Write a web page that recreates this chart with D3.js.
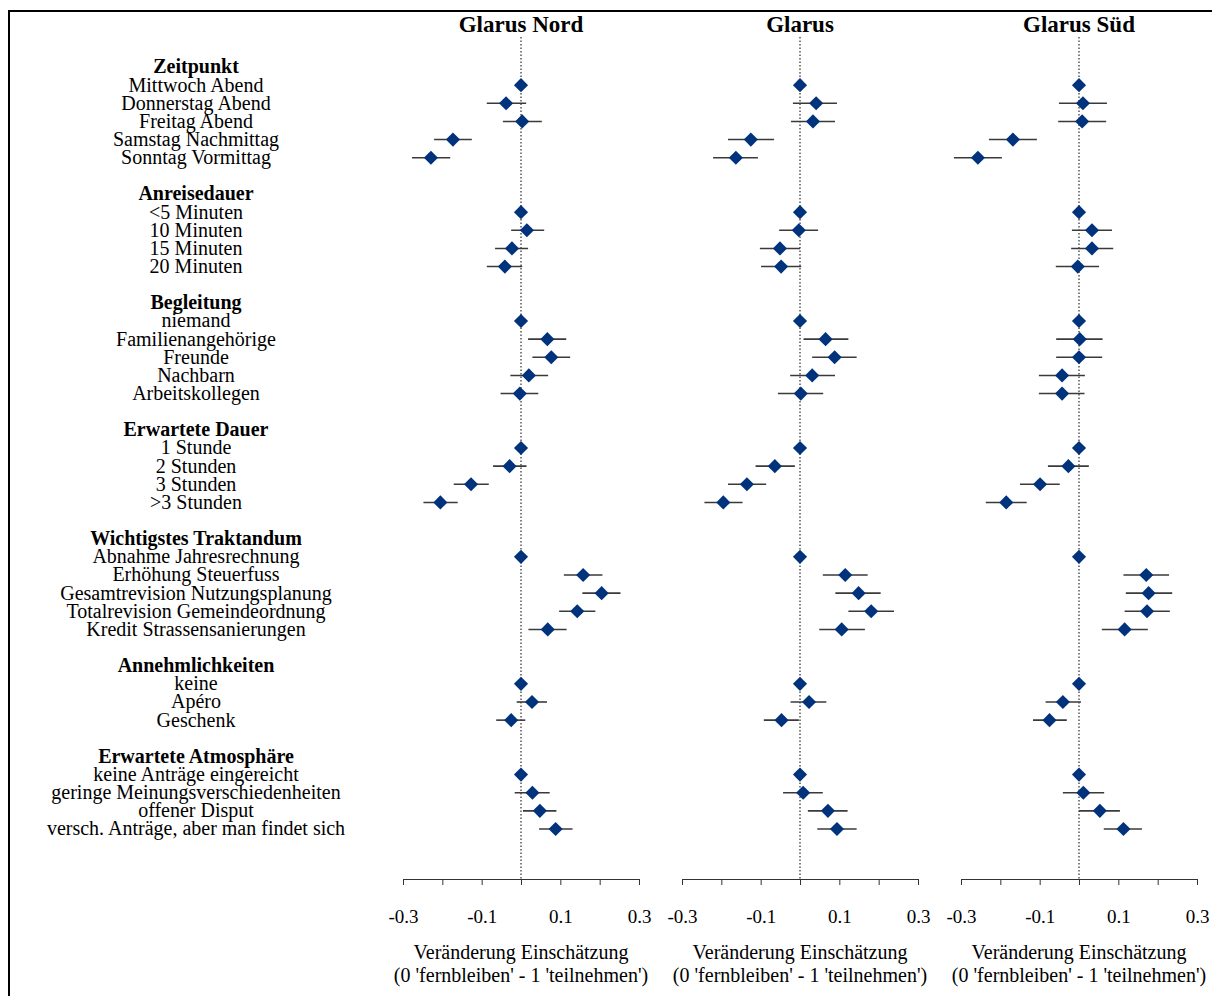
<!DOCTYPE html>
<html>
<head>
<meta charset="utf-8">
<script src="https://cdn.jsdelivr.net/npm/d3@7"></script>
<style>
  body { margin: 0; background: #fff; }
  svg { display: block; font-family: 'Liberation Serif', 'Times New Roman', serif; }
</style>
</head>
<body>
<div id="chart"></div>
<script>
// Gemeinden (ein Panel pro Gemeinde)
const panels = ['Glarus Nord', 'Glarus', 'Glarus Süd']

// Merkmale und Ausprägungen
const groupNames = ['Zeitpunkt', 'Anreisedauer', 'Begleitung', 'Erwartete Dauer',
  'Wichtigstes Traktandum', 'Annehmlichkeiten', 'Erwartete Atmosphäre']
const groupItems = [
  ['Mittwoch Abend', 'Donnerstag Abend', 'Freitag Abend', 'Samstag Nachmittag', 'Sonntag Vormittag'],
  ['<5 Minuten', '10 Minuten', '15 Minuten', '20 Minuten'],
  ['niemand', 'Familienangehörige', 'Freunde', 'Nachbarn', 'Arbeitskollegen'],
  ['1 Stunde', '2 Stunden', '3 Stunden', '>3 Stunden'],
  ['Abnahme Jahresrechnung', 'Erhöhung Steuerfuss', 'Gesamtrevision Nutzungsplanung',
    'Totalrevision Gemeindeordnung', 'Kredit Strassensanierungen'],
  ['keine', 'Apéro', 'Geschenk'],
  ['keine Anträge eingereicht', 'geringe Meinungsverschiedenheiten', 'offener Disput',
    'versch. Anträge, aber man findet sich']
]

// Schätzer (AMCE) und 95%-Intervalle, null = Referenzkategorie
const nordEst = [0, -0.038, 0.003, -0.173, -0.229, 0, 0.015, -0.023, -0.041, 0, 0.067, 0.077, 0.020, -0.003,
  0, -0.029, -0.127, -0.205, 0, 0.158, 0.205, 0.143, 0.068, 0, 0.028, -0.025, 0, 0.029, 0.048, 0.088]
const nordLo = [null, -0.087, -0.046, -0.221, -0.277, null, -0.025, -0.066, -0.087, null, 0.018, 0.029, -0.027, -0.052,
  null, -0.071, -0.171, -0.248, null, 0.109, 0.156, 0.097, 0.019, null, -0.011, -0.063, null, -0.016, 0.005, 0.046]
const nordHi = [null, 0.013, 0.053, -0.125, -0.180, null, 0.059, 0.018, 0.003, null, 0.115, 0.125, 0.069, 0.044,
  null, 0.014, -0.082, -0.161, null, 0.207, 0.253, 0.189, 0.116, null, 0.066, 0.011, null, 0.073, 0.090, 0.131]

const glarusEst = [0, 0.041, 0.033, -0.125, -0.163, 0, -0.003, -0.051, -0.048, 0, 0.065, 0.088, 0.031, 0.002,
  0, -0.064, -0.135, -0.195, 0, 0.115, 0.149, 0.181, 0.106, 0, 0.023, -0.047, 0, 0.008, 0.071, 0.094]
const glarusLo = [null, -0.018, -0.023, -0.183, -0.221, null, -0.053, -0.102, -0.099, null, 0.009, 0.031, -0.025, -0.056,
  null, -0.113, -0.183, -0.243, null, 0.058, 0.090, 0.123, 0.049, null, -0.024, -0.092, null, -0.043, 0.020, 0.044]
const glarusHi = [null, 0.094, 0.089, -0.066, -0.107, null, 0.046, 0.000, 0.003, null, 0.123, 0.144, 0.089, 0.059,
  null, -0.013, -0.086, -0.146, null, 0.172, 0.205, 0.239, 0.165, null, 0.067, -0.003, null, 0.058, 0.121, 0.144]

const suedEst = [0, 0.010, 0.008, -0.168, -0.257, 0, 0.033, 0.033, -0.003, 0, 0.002, 0.000, -0.043, -0.043,
  0, -0.027, -0.099, -0.185, 0, 0.171, 0.177, 0.173, 0.116, 0, -0.041, -0.075, 0, 0.011, 0.053, 0.113]
const suedLo = [null, -0.051, -0.053, -0.229, -0.318, null, -0.018, -0.020, -0.059, null, -0.058, -0.058, -0.102, -0.102,
  null, -0.079, -0.150, -0.237, null, 0.113, 0.119, 0.116, 0.058, null, -0.085, -0.117, null, -0.041, 0.000, 0.063]
const suedHi = [null, 0.071, 0.069, -0.107, -0.196, null, 0.084, 0.087, 0.051, null, 0.060, 0.059, 0.015, 0.014,
  null, 0.025, -0.049, -0.133, null, 0.229, 0.237, 0.231, 0.175, null, 0.005, -0.031, null, 0.064, 0.104, 0.160]

// Achse
const xTicks = [-0.3, -0.2, -0.1, 0, 0.1, 0.2, 0.3]
const xTickLabels = ['-0.3', '', '-0.1', '', '0.1', '', '0.3']
const xTitle = ['Veränderung Einschätzung', "(0 'fernbleiben' - 1 'teilnehmen')"]

const width = 1212
const height = 996
const color = '#01337d'

const panelData = [
  { est: nordEst, lo: nordLo, hi: nordHi },
  { est: glarusEst, lo: glarusLo, hi: glarusHi },
  { est: suedEst, lo: suedLo, hi: suedHi }
]

// Zeilen aufbauen: Überschrift, Ausprägungen, Leerzeile
const rows = []
let itemIndex = 0
groupNames.forEach((g, gi) => {
  rows.push({ type: 'header', label: g })
  groupItems[gi].forEach(item => {
    rows.push({ type: 'item', label: item, idx: itemIndex++ })
  })
  if (gi < groupNames.length - 1) rows.push({ type: 'blank', label: '' })
})

const yScale = d3.scalePoint()
  .domain(d3.range(rows.length))
  .range([67, 829])

const svg = d3.select('#chart')
  .append('svg')
  .attr('width', width)
  .attr('height', height)

// Rahmen
svg.append('rect')
  .attr('x', 9)
  .attr('y', 11)
  .attr('width', 1210)
  .attr('height', 1000)
  .attr('fill', 'none')
  .attr('stroke', '#000')
  .attr('stroke-width', 2)

// Beschriftungen links
svg.append('g')
  .selectAll('text')
  .data(rows.filter(r => r.type !== 'blank'))
  .enter().append('text')
  .attr('x', 196)
  .attr('y', d => yScale(rows.indexOf(d)))
  .attr('dy', '0.32em')
  .attr('text-anchor', 'middle')
  .attr('font-size', 20)
  .attr('font-weight', d => d.type === 'header' ? 'bold' : 'normal')
  .attr('fill', '#000')
  .text(d => d.label)

const itemRows = rows.filter(r => r.type === 'item')
const zeros = [521, 800, 1079]
const halfW = 118
const axisY = 879

panels.forEach((name, pi) => {
  const x0 = zeros[pi]
  const xScale = d3.scaleLinear()
    .domain([-0.3, 0.3])
    .range([x0 - halfW, x0 + halfW])
  const { est, lo, hi } = panelData[pi]
  const g = svg.append('g').attr('class', `panel-${pi}`)

  // Titel
  g.append('text')
    .attr('x', xScale(0))
    .attr('y', 32)
    .attr('text-anchor', 'middle')
    .attr('font-size', 23)
    .attr('font-weight', 'bold')
    .text(name)

  // Nulllinie (gepunktet)
  g.append('line')
    .attr('x1', xScale(0)).attr('x2', xScale(0))
    .attr('y1', 37).attr('y2', axisY)
    .attr('stroke', '#000')
    .attr('stroke-width', 1)
    .attr('stroke-dasharray', '1.5,2')

  // Konfidenzintervalle
  g.append('g')
    .selectAll('line')
    .data(itemRows.filter(r => lo[r.idx] !== null))
    .enter().append('line')
    .attr('x1', d => xScale(lo[d.idx]))
    .attr('x2', d => xScale(hi[d.idx]))
    .attr('y1', d => yScale(rows.indexOf(d)))
    .attr('y2', d => yScale(rows.indexOf(d)))
    .attr('stroke', '#3a3a3a')
    .attr('stroke-width', 1.6)

  // Punktschätzer als Rauten
  g.append('g')
    .selectAll('path')
    .data(itemRows)
    .enter().append('path')
    .attr('d', d3.symbol(d3.symbolSquare, 100))
    .attr('transform', d => `translate(${xScale(est[d.idx])},${yScale(rows.indexOf(d))}) rotate(45)`)
    .attr('fill', color)

  // x-Achse
  const axis = d3.axisBottom(xScale)
    .tickValues(xTicks)
    .tickFormat((d, i) => xTickLabels[i])
    .tickSize(6)
    .tickSizeOuter(6)
    .tickPadding(25)
  const ax = g.append('g')
    .attr('transform', `translate(0,${axisY})`)
    .call(axis)
  ax.selectAll('path, line').attr('stroke', '#333')
  ax.selectAll('text')
    .attr('font-size', 19)
    .attr('font-family', "'Liberation Serif', 'Times New Roman', serif")
    .attr('fill', '#000')

  // Achsentitel
  xTitle.forEach((t, ti) => {
    g.append('text')
      .attr('x', xScale(0))
      .attr('y', 959 + ti * 23)
      .attr('text-anchor', 'middle')
      .attr('font-size', 20)
      .text(t)
  })
})
</script>
</body>
</html>
